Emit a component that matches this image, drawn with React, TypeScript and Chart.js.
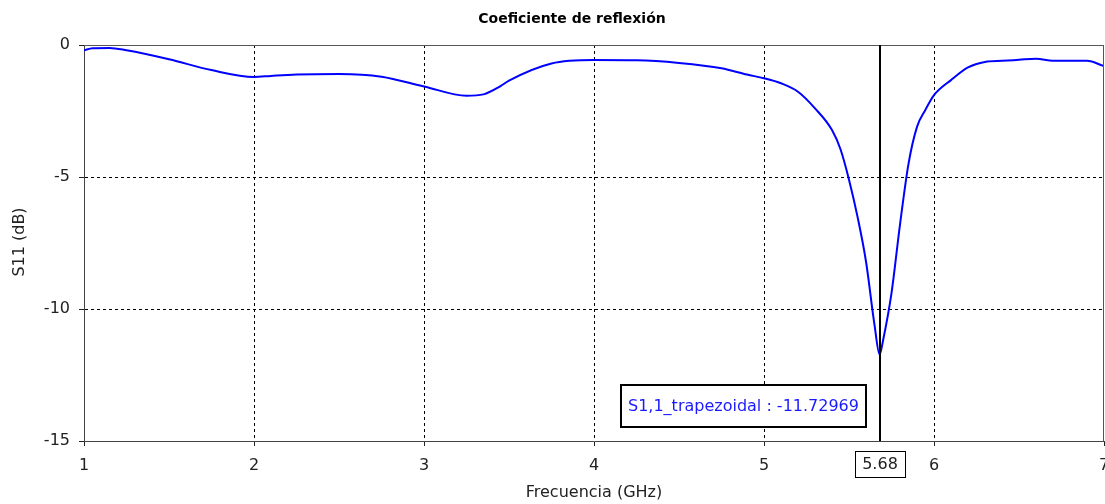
import React, { useEffect, useRef } from "react";
import { Chart, registerables } from "chart.js";

Chart.register(...registerables);

const TITLE = "Coeficiente de reflexión";
const X_LABEL = "Frecuencia (GHz)";
const Y_LABEL = "S11 (dB)";
const SERIES_NAME = "S1,1_trapezoidal";
const MARKER_FREQ = 5.68;
const MARKER_VALUE = -11.72969;

const freqs = [
  1.0, 1.05, 1.15, 1.25, 1.5, 1.75, 2.0, 2.1, 2.25, 2.5, 2.75, 3.0, 3.25, 3.35, 3.45, 3.5, 3.75,
  4.0, 4.25, 4.5, 4.75, 4.9, 5.0, 5.1, 5.2, 5.3, 5.4, 5.45, 5.5, 5.55, 5.6, 5.65, 5.68,
  5.7, 5.75, 5.8, 5.85, 5.9, 5.95, 6.0, 6.1, 6.2, 6.3, 6.4, 6.5, 6.6, 6.7, 6.8, 6.9, 7.0,
];
const s11 = [
  -0.2, -0.12, -0.11, -0.2, -0.54, -0.95, -1.21, -1.17, -1.12, -1.1, -1.2, -1.57, -1.92, -1.87, -1.56, -1.35, -0.7,
  -0.57, -0.58, -0.68, -0.88, -1.12, -1.26, -1.45, -1.77, -2.4, -3.22, -3.95, -5.1, -6.5, -8.2, -10.6, -11.73,
  -11.2, -9.4, -6.8, -4.5, -3.1, -2.45, -1.9, -1.33, -0.85, -0.64, -0.6, -0.56, -0.52, -0.6, -0.6, -0.6, -0.8,
];
const xTicks = [1, 2, 3, 4, 5, 6, 7];
const yTicks = [0, -5, -10, -15];

const FONT = "'DejaVu Sans', sans-serif";

const decorPlugin = {
  id: "decor",
  afterDraw(chart: any) {
    const { ctx, chartArea, scales } = chart;
    const { left, right, top, bottom } = chartArea;
    ctx.save();
    // top and right frame
    ctx.strokeStyle = "#555";
    ctx.lineWidth = 1;
    ctx.beginPath();
    ctx.moveTo(left, top + 0.5);
    ctx.lineTo(right, top + 0.5);
    ctx.moveTo(right - 0.5, top);
    ctx.lineTo(right - 0.5, bottom);
    ctx.stroke();

    // marker line
    const mx = Math.round(scales.x.getPixelForValue(MARKER_FREQ));
    ctx.strokeStyle = "#000";
    ctx.lineWidth = 2;
    ctx.beginPath();
    ctx.moveTo(mx, top);
    ctx.lineTo(mx, bottom);
    ctx.stroke();

    // marker x label box
    ctx.font = `16px ${FONT}`;
    ctx.textAlign = "center";
    ctx.textBaseline = "middle";
    const lbl = MARKER_FREQ.toFixed(2);
    const lw = Math.round(ctx.measureText(lbl).width + 14);
    ctx.fillStyle = "#fff";
    ctx.fillRect(mx - lw / 2, 451, lw, 26);
    ctx.strokeStyle = "#000";
    ctx.lineWidth = 1;
    ctx.strokeRect(Math.round(mx - lw / 2) + 0.5, 451.5, lw, 26);
    ctx.fillStyle = "#222";
    ctx.fillText(lbl, mx, 465);

    // value annotation box
    const txt = `${SERIES_NAME} : ${MARKER_VALUE}`;
    const tw = ctx.measureText(txt).width;
    const bx = 621;
    const by = 385;
    const bw = Math.round(tw + 14);
    const bh = 42;
    ctx.fillStyle = "#fff";
    ctx.fillRect(bx, by, bw, bh);
    ctx.strokeStyle = "#000";
    ctx.lineWidth = 2;
    ctx.strokeRect(bx, by, bw, bh);
    ctx.fillStyle = "#1a1aff";
    ctx.textAlign = "left";
    ctx.fillText(txt, bx + 7, by + bh / 2 + 1);

    // title
    ctx.fillStyle = "#000";
    ctx.font = `bold 14px ${FONT}`;
    ctx.textAlign = "center";
    ctx.fillText(TITLE, 572, 19);

    // axis titles
    ctx.fillStyle = "#222";
    ctx.font = `16px ${FONT}`;
    ctx.fillText(X_LABEL, scales.x.getPixelForValue(4), 493);
    ctx.save();
    ctx.translate(20, 242);
    ctx.rotate(-Math.PI / 2);
    ctx.fillText(Y_LABEL, 0, 0);
    ctx.restore();
    ctx.restore();
  },
};

export default function App() {
  const ref = useRef<HTMLCanvasElement | null>(null);
  useEffect(() => {
    document.body.style.margin = "0";
    document.body.style.overflow = "hidden";
    const canvas = ref.current!;
    const edgeX = (v: number) => v === xTicks[0] || v === xTicks[xTicks.length - 1];
    const edgeY = (v: number) => v === yTicks[0] || v === yTicks[yTicks.length - 1];
    const chart = new Chart(canvas, {
      type: "line",
      data: {
        datasets: [
          {
            label: SERIES_NAME,
            data: freqs.map((f, i) => ({ x: f, y: s11[i] })),
            borderColor: "#0000ff",
            borderWidth: 2,
            pointRadius: 0,
            fill: false,
            cubicInterpolationMode: "monotone",
          },
        ],
      },
      options: {
        animation: false,
        responsive: false,
        events: [],
        layout: { padding: { top: 45, left: 0, right: 1, bottom: 0 } },
        plugins: { legend: { display: false }, title: { display: false }, tooltip: { enabled: false } },
        scales: {
          x: {
            type: "linear",
            min: 1,
            max: 7,
            afterBuildTicks: (s: any) => {
              s.ticks = xTicks.map((v) => ({ value: v }));
            },
            ticks: {
              color: "#222",
              font: { family: FONT, size: 16 },
              padding: 10,
              maxRotation: 0,
              autoSkip: false,
              callback: (v: any) => String(v),
            },
            grid: {
              color: (c: any) => (edgeX(c.tick?.value) ? "rgba(0,0,0,0)" : "#000"),
              tickColor: "#222",
              tickLength: 5,
              tickBorderDash: [],
            },
            border: { color: "#444", width: 1, dash: [3, 3] },
            afterFit: (s: any) => {
              s.height = 63;
              s.paddingLeft = 0;
              s.paddingRight = 0;
            },
          },
          y: {
            type: "linear",
            min: -15,
            max: 0,
            afterBuildTicks: (s: any) => {
              s.ticks = yTicks.map((v) => ({ value: v }));
            },
            ticks: {
              color: "#222",
              font: { family: FONT, size: 16 },
              padding: 9,
              autoSkip: false,
              callback: (v: any) => String(v),
            },
            grid: {
              color: (c: any) => (edgeY(c.tick?.value) ? "rgba(0,0,0,0)" : "#000"),
              tickColor: "#222",
              tickLength: 5,
              tickBorderDash: [],
            },
            border: { color: "#444", width: 1, dash: [3, 3] },
            afterFit: (s: any) => {
              s.width = 84;
              s.paddingTop = 0;
              s.paddingBottom = 0;
            },
          },
        },
      },
      plugins: [decorPlugin],
    } as any);
    return () => chart.destroy();
  }, []);
  return (
    <div style={{ position: "absolute", left: 0, top: 0, width: 1105, height: 504, background: "#fff" }}>
      <canvas ref={ref} width={1105} height={504} style={{ display: "block" }} />
    </div>
  );
}
